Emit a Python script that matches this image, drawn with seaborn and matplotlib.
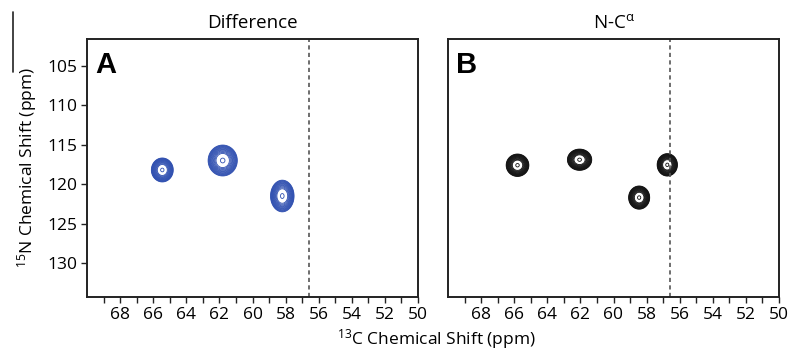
import numpy as np
import matplotlib
matplotlib.use("Agg")
import matplotlib.pyplot as plt
import seaborn as sns
from matplotlib.lines import Line2D

# ---- data ----
panel_titles = ["Difference", "N-C$\\mathregular{^{α}}$"]
panel_letters = ["A", "B"]
# panel A peaks (13C ppm, 15N ppm, sigma C, sigma N, tilt)
a_c13 = [65.45, 61.8, 58.2]
a_n15 = [118.2, 117.0, 121.5]
a_sig_c = [0.27, 0.36, 0.29]
a_sig_n = [0.62, 0.80, 0.82]
a_tilt = [0.35, 0.15, 0.25]
# panel B peaks
b_c13 = [65.8, 62.05, 58.45, 56.75]
b_n15 = [117.6, 116.9, 121.7, 117.55]
b_sig_c = [0.28, 0.30, 0.26, 0.25]
b_sig_n = [0.58, 0.55, 0.60, 0.58]
b_tilt = [0.2, 0.3, 0.1, 0.0]
ref_line_c13 = 56.6
x_ticks = [68, 66, 64, 62, 60, 58, 56, 54, 52, 50]
y_ticks = [105, 110, 115, 120, 125, 130]

colors = ["#2f4fb0", "#111111"]

sns.set_theme(style="ticks")
plt.rcParams["font.family"] = ["Open Sans", "DejaVu Sans"]
plt.rcParams["text.color"] = "black"
plt.rcParams["axes.labelcolor"] = "black"
plt.rcParams["xtick.labelcolor"] = "black"
plt.rcParams["ytick.labelcolor"] = "black"

fig = plt.figure(figsize=(7.89, 3.52), dpi=100)
axA = fig.add_axes([87/789, 1-297/352, 331/789, 258/352])
axB = fig.add_axes([448/789, 1-297/352, 331/789, 258/352])

xg = np.linspace(49, 71, 600)
yg = np.linspace(100, 136, 800)
X, Y = np.meshgrid(xg, yg)

def spectrum(cs, ns, sc, sn, tl):
    Z = np.zeros_like(X)
    for c, n, s1, s2, t in zip(cs, ns, sc, sn, tl):
        dx = X - c
        dy = (Y - n) * (s1 / s2)
        u = dx*np.cos(t) + dy*np.sin(t)
        v = -dx*np.sin(t) + dy*np.cos(t)
        Z = np.maximum(Z, np.exp(-(u**2 + v**2) / (2*s1**2)))
    return Z

levels = list(0.05 * 1.2**np.arange(0, 16))
levels = [l for l in levels if l < 0.64] + [0.93]

data = [(a_c13, a_n15, a_sig_c, a_sig_n, a_tilt),
        (b_c13, b_n15, b_sig_c, b_sig_n, b_tilt)]

for i, ax in enumerate([axA, axB]):
    Z = spectrum(*data[i])
    ax.contour(X, Y, Z, levels=levels, colors=colors[i], linewidths=0.6)
    ax.axvline(ref_line_c13, color="#555555", lw=1.2, ls=(0, (2.5, 2)))
    ax.set_xlim(70, 50)
    ax.set_ylim(134.3, 101.6)
    ax.set_xticks(x_ticks)
    ax.set_xticks(np.arange(50, 70, 1), minor=True)
    ax.tick_params(axis="x", which="both", direction="out", length=4, width=1,
                   labelsize=12.5, pad=3, color="#222222")
    for sp in ax.spines.values():
        sp.set_visible(True)
        sp.set_linewidth(1.4)
        sp.set_color("#222222")
    ax.set_title(panel_titles[i], fontsize=13.5, pad=8)
    ax.text(0.025, 0.955, panel_letters[i], transform=ax.transAxes,
            fontsize=21, fontweight="bold", va="top", ha="left",
            family="Liberation Sans")
    ax.set_facecolor("white")

axA.set_yticks(y_ticks)
axA.tick_params(axis="y", direction="out", length=4, width=1, labelsize=12.5,
                pad=3, color="#222222")
axB.set_yticks(y_ticks)
axB.tick_params(axis="y", length=0, labelleft=False)

axA.set_ylabel("$\\mathregular{^{15}}$N Chemical Shift (ppm)", fontsize=12.5, labelpad=6)
fig.text(436/789, 1-339/352, "$\\mathregular{^{13}}$C Chemical Shift (ppm)", fontsize=12.5,
         ha="center", va="center")
fig.add_artist(Line2D([13/789, 13/789], [1-12/352, 1-72/352],
                      transform=fig.transFigure, color="#222222", lw=1.2))

fig.savefig("out.png", dpi=100, facecolor="white")
